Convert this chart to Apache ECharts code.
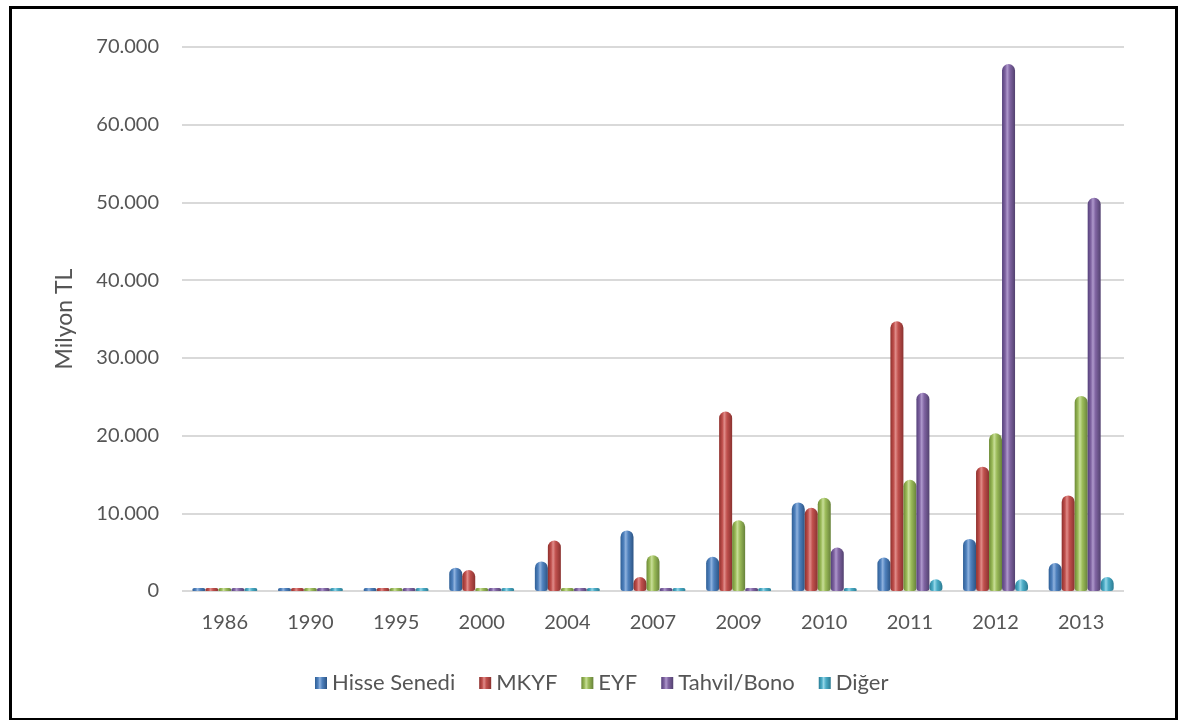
<!DOCTYPE html>
<html>
<head>
<meta charset="utf-8">
<script src="https://cdn.jsdelivr.net/npm/echarts@6/dist/echarts.min.js"></script>
<style>
html,body{margin:0;padding:0;background:#fff;}
#c{width:1180px;height:720px;}
</style>
</head>
<body>
<div id="c"></div>
<script>
const years = ['1986','1990','1995','2000','2004','2007','2009','2010','2011','2012','2013'];
const hisseSenedi = [60, 70, 80, 3000, 3800, 7800, 4400, 11400, 4300, 6700, 3600];
const mkyf        = [40, 50, 60, 2700, 6500, 1800, 23100, 10700, 34700, 16000, 12300];
const eyf         = [10, 10, 10, 50, 300, 4600, 9100, 12000, 14300, 20300, 25100];
const tahvilBono  = [30, 40, 50, 60, 100, 400, 400, 5600, 25500, 67800, 50600];
const diger       = [10, 20, 80, 60, 100, 100, 150, 150, 1500, 1500, 1800];
const seriesNames = ['Hisse Senedi','MKYF','EYF','Tahvil/Bono','Diğer'];
const yTicks = [0, 10000, 20000, 30000, 40000, 50000, 60000, 70000];

const palette = [
  ['#2f5f96','#4f81bd','#8fb2de','#4f81bd','#2c5484'],
  ['#8e2f2c','#c0504d','#e08c89','#c0504d','#8a3230'],
  ['#6c8a35','#9bbb59','#c8de98','#9bbb59','#67823a'],
  ['#54407a','#8064a2','#ae98cc','#8064a2','#52416f'],
  ['#2a7d96','#4bacc6','#94d6e8','#4bacc6','#2b7a91']
];
function grad(p){
  return new echarts.graphic.LinearGradient(0,0,1,0,[
    {offset:0,color:p[0]},{offset:0.25,color:p[1]},{offset:0.4,color:p[2]},
    {offset:0.6,color:p[3]},{offset:1,color:p[4]}
  ]);
}
const dataSets = [hisseSenedi, mkyf, eyf, tahvilBono, diger];
const FONT = 'Lato';
const TXT = '#555555';

const chart = echarts.init(document.getElementById('c'), null, {renderer:'canvas'});
chart.setOption({
  animation:false,
  backgroundColor:'#fff',
  textStyle:{fontFamily:FONT},
  grid:{left:182, right:56, top:47, bottom:129, containLabel:false},
  legend:{
    bottom:21, left:310,
    itemWidth:12, itemHeight:12, itemGap:24,
    textStyle:{color:TXT, fontSize:22, fontFamily:FONT},
    data: seriesNames.map((n,i)=>({name:n, icon:'rect', itemStyle:{color:grad(palette[i])}}))
  },
  xAxis:{
    type:'category', data:years,
    axisLine:{show:false}, axisTick:{show:false},
    axisLabel:{color:TXT, fontSize:20, fontFamily:FONT, margin:22}
  },
  yAxis:{
    type:'value', min:0, max:70000, interval:10000,
    name:'Milyon TL', nameLocation:'middle', nameGap:106, nameRotate:90,
    nameTextStyle:{color:TXT, fontSize:23, fontFamily:FONT},
    axisLine:{show:false}, axisTick:{show:false},
    axisLabel:{color:TXT, fontSize:20, fontFamily:FONT, margin:23,
      formatter:function(v){ return v===0 ? '0' : v.toLocaleString('de-DE'); }},
    splitLine:{lineStyle:{color:'#d9d9d9', width:2}}
  },
  series: dataSets.map((d,i)=>({
    name:seriesNames[i], type:'bar', data:d,
    barWidth:13, barGap:'0%', barMinHeight:3,
    itemStyle:{color:grad(palette[i]), borderRadius:[6.5,6.5,3,3]}
  })),
  graphic:[{
    type:'rect', left:8, top:5, z:100, silent:true,
    shape:{x:0,y:0,width:1166,height:712},
    style:{fill:null, stroke:'#000', lineWidth:3}
  }]
});
</script>
</body>
</html>
